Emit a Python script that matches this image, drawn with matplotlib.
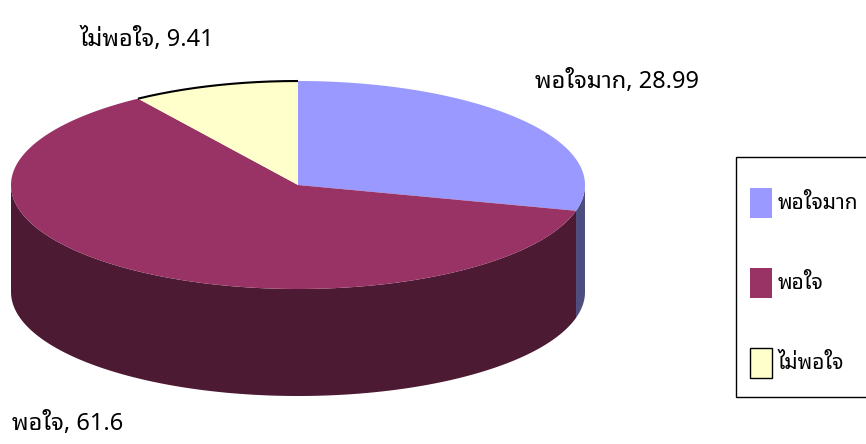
import numpy as np
import matplotlib
matplotlib.use('Agg')
import matplotlib.pyplot as plt
from matplotlib.patches import Polygon, Rectangle

# ข้อมูลระดับความพึงพอใจ (%)
categories = ['พอใจมาก', 'พอใจ', 'ไม่พอใจ']
values = [28.99, 61.6, 9.41]
top_colors = ['#9999FF', '#993366', '#FFFFCC']
side_colors = ['#4D4D80', '#4D1A33', '#808066']

thai = ['Noto Sans Thai Looped', 'DejaVu Sans']

# รูปทรงพายสามมิติ (หน่วยเป็นพิกเซล)
cx, cy = 298, 185
rx, ry = 287, 104
depth = 107


def arc(t1, t2, n=200):
    t = np.radians(np.linspace(t1, t2, n))
    return cx + rx * np.cos(t), cy - ry * np.sin(t)


fig = plt.figure(figsize=(8.66, 4.44), dpi=100)
ax = fig.add_axes([0, 0, 1, 1])
ax.set_xlim(0, 866)
ax.set_ylim(444, 0)
ax.axis('off')

# มุมของแต่ละชิ้น เริ่มที่ 12 นาฬิกา หมุนตามเข็ม
fracs = np.array(values) / sum(values)
ends = 90 - 360 * np.cumsum(fracs)
starts = np.concatenate([[90], ends[:-1]])

# ผนังด้านข้าง (มองเห็นเฉพาะครึ่งหน้า)
for s, e, col in zip(starts, ends, side_colors):
    lo, hi = max(e, -180), min(s, 0)
    if lo >= hi:
        continue
    x, y = arc(lo, hi)
    pts = np.vstack([np.column_stack([x, y]),
                     np.column_stack([x[::-1], y[::-1] + depth])])
    ax.add_patch(Polygon(pts, closed=True, facecolor=col, edgecolor='none'))

# หน้าบนของพาย
for s, e, col in zip(starts, ends, top_colors):
    x, y = arc(s, e)
    pts = np.vstack([[cx, cy], np.column_stack([x, y])])
    ax.add_patch(Polygon(pts, closed=True, facecolor=col, edgecolor='none'))

# เส้นขอบด้านหลังของชิ้น ไม่พอใจ
x, y = arc(ends[2] + 360, starts[2] + 360)
ax.plot(x, y, color='black', lw=1.5, solid_capstyle='butt')

# ป้ายข้อมูล
label_pos = [(535, 82), (12, 424), (80, 40)]
for cat, val, (lx, ly) in zip(categories, values, label_pos):
    ax.text(lx, ly, f'{cat}, {val:g}', family=thai, fontsize=17,
            ha='left', va='center')

# คำอธิบายสัญลักษณ์ (กรอบล้นขอบขวาเหมือนต้นฉบับ)
ax.add_patch(Rectangle((736, 157), 200, 240, facecolor='white',
                       edgecolor='black', lw=1.0, clip_on=False))
for i, (cat, col) in enumerate(zip(categories, top_colors)):
    yc = 203 + 80 * i
    ax.add_patch(Rectangle((750, yc - 15), 22, 30, facecolor=col,
                           edgecolor='black' if i == 2 else 'none', lw=1.0))
    ax.text(778, yc, cat, family=thai, fontsize=15, ha='left', va='center')

fig.savefig('out.png', dpi=100)
